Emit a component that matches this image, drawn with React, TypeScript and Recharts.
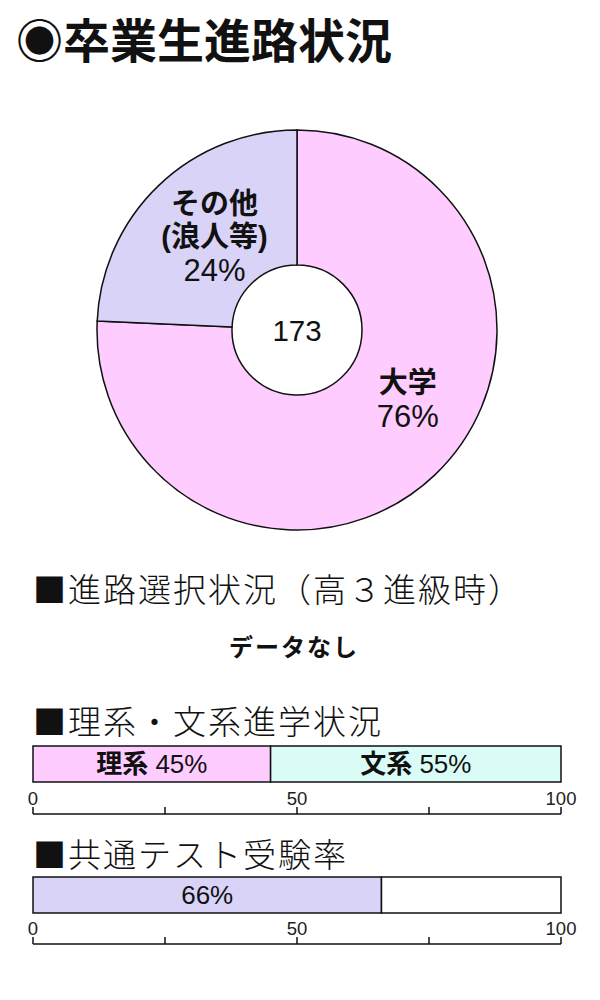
import React from 'react';
import { PieChart, Pie, Cell, BarChart, Bar, XAxis, YAxis, LabelList } from 'recharts';

const TITLE = '◉卒業生進路状況';
const PIE_NAMES = ['大学', 'その他'];
const PIE_SUBNAMES = ['', '(浪人等)'];
const PIE_VALUES = [131, 42];
const HEAD_CHOICE = '■進路選択状況（高３進級時）';
const NO_DATA = 'データなし';
const HEAD_TRACK = '■理系・文系進学状況';
const TRACK_NAMES = ['理系', '文系'];
const TRACK_VALUES = [45, 55];
const HEAD_EXAM = '■共通テスト受験率';
const EXAM_NAMES = ['受験', '未受験'];
const EXAM_VALUES = [66, 34];
const AXIS_TICKS = [0, 25, 50, 75, 100];
const AXIS_LABELS = [0, 50, 100];

const PIE_COLORS = ['#FFCCFF', '#D8D3F7'];
const TRACK_COLORS = ['#FFCCFF', '#D9FCF7'];
const EXAM_COLORS = ['#D8D3F7', '#FFFFFF'];

const JP = '"Liberation Sans", "Noto Sans CJK JP", sans-serif';
const CJK = '"Noto Sans CJK JP", sans-serif';

const pieData = PIE_NAMES.map((n, i) => ({ name: n, sub: PIE_SUBNAMES[i], value: PIE_VALUES[i] }));
const pieTotal = PIE_VALUES.reduce((a, b) => a + b, 0);
const trackData = [{ cat: 'track', a: TRACK_VALUES[0], b: TRACK_VALUES[1] }];
const examData = [{ cat: 'exam', a: EXAM_VALUES[0], b: EXAM_VALUES[1] }];

const PIE_TOP = 110;
const PIE_CX = 297;
const PIE_CY = 220;
const LABEL_SHIFT = [14, -2];
const LABEL_R = [131, 124];

const renderPieLabel = (props: any) => {
  const { cx, cy, midAngle, index, payload, value } = props;
  const RAD = Math.PI / 180;
  const a = (midAngle + LABEL_SHIFT[index]) * RAD;
  const x = cx + LABEL_R[index] * Math.cos(a);
  const y = cy - LABEL_R[index] * Math.sin(a);
  const pct = Math.round((value / pieTotal) * 100);
  const name = payload?.name ?? props.name;
  const sub = payload?.sub ?? '';
  const lines: { t: string; bold: boolean }[] = [{ t: name, bold: true }];
  if (sub) lines.push({ t: sub, bold: true });
  lines.push({ t: `${pct}%`, bold: false });
  const lh = 33.5;
  const y0 = y - ((lines.length - 1) * lh) / 2;
  return (
    <g>
      {lines.map((l, i) => (
        <text
          key={i}
          x={x}
          y={y0 + i * lh}
          textAnchor="middle"
          dominantBaseline="central"
          fontFamily={JP}
          fontSize={l.bold ? 29 : 31}
          fontWeight={l.bold ? 700 : 400}
          fill="#111"
        >
          {l.t}
        </text>
      ))}
    </g>
  );
};

const makeBarLabel = (name: string) => (props: any) => {
  const { x, y, width, height, value } = props;
  return (
    <text
      x={x + width / 2}
      y={y + height / 2}
      textAnchor="middle"
      dominantBaseline="central"
      fontFamily={JP}
      fontSize={26}
      fill="#111"
    >
      {name ? <tspan fontWeight={700}>{name} </tspan> : null}
      <tspan>{`${value}%`}</tspan>
    </text>
  );
};

const heading = (text: string, top: number) => (
  <div
    style={{
      position: 'absolute',
      left: 33,
      top,
      width: 560,
      height: 40,
      fontFamily: CJK,
      fontSize: 33,
      lineHeight: '40px',
      letterSpacing: 2,
      fontWeight: 300,
      color: '#111',
      whiteSpace: 'nowrap',
    }}
  >
    {text}
  </div>
);

const axisProps = {
  type: 'number' as const,
  domain: [0, 100],
  ticks: AXIS_TICKS,
  mirror: true,
  interval: 0 as const,
  tickSize: 7,
  tickMargin: 2,
  tickFormatter: (v: number) => (AXIS_LABELS.includes(v) ? String(v) : ''),
  axisLine: { stroke: '#111', strokeWidth: 1.5 },
  tickLine: { stroke: '#111', strokeWidth: 1.5 },
  tick: { fill: '#222', fontSize: 18.5, fontFamily: '"Liberation Sans", sans-serif' },
};

export default function App() {
  return (
    <div style={{ position: 'absolute', left: 0, top: 0, width: 600, height: 1000, background: '#fff' }}>
      <div
        style={{
          position: 'absolute',
          left: 16,
          top: 4,
          width: 570,
          height: 68,
          fontFamily: CJK,
          fontSize: 47,
          lineHeight: '68px',
          fontWeight: 700,
          color: '#111',
          whiteSpace: 'nowrap',
        }}
      >
        {TITLE}
      </div>

      <div style={{ position: 'absolute', left: 0, top: PIE_TOP }}>
        <PieChart width={600} height={440} margin={{ top: 0, right: 0, bottom: 0, left: 0 }}>
          <Pie
            data={pieData}
            dataKey="value"
            nameKey="name"
            cx={PIE_CX}
            cy={PIE_CY}
            innerRadius={65}
            outerRadius={200}
            startAngle={90}
            endAngle={-270}
            stroke="#111"
            strokeWidth={1.5}
            label={renderPieLabel}
            labelLine={false}
            isAnimationActive={false}
          >
            {pieData.map((d, i) => (
              <Cell key={d.name} fill={PIE_COLORS[i]} />
            ))}
          </Pie>
          <text
            x={PIE_CX}
            y={PIE_CY}
            textAnchor="middle"
            dominantBaseline="central"
            fontSize={29.5}
            fontFamily='"Liberation Sans", sans-serif'
            fill="#111"
          >
            {pieTotal}
          </text>
        </PieChart>
      </div>

      {heading(HEAD_CHOICE, 567.5)}
      <div
        style={{
          position: 'absolute',
          left: 229,
          top: 634,
          width: 200,
          height: 30,
          fontFamily: CJK,
          fontSize: 24,
          lineHeight: '24px',
          letterSpacing: 2,
          fontWeight: 700,
          color: '#111',
          whiteSpace: 'nowrap',
        }}
      >
        {NO_DATA}
      </div>

      {heading(HEAD_TRACK, 699.5)}
      <div style={{ position: 'absolute', left: 0, top: 720 }}>
        <BarChart
          width={600}
          height={104}
          data={trackData}
          layout="vertical"
          margin={{ top: 26, right: 39, bottom: 10, left: 33 }}
          barCategoryGap={0}
        >
          <XAxis {...axisProps} />
          <YAxis type="category" dataKey="cat" hide padding={{ top: 0, bottom: 32 }} />
          <Bar dataKey="a" stackId="s" fill={TRACK_COLORS[0]} stroke="#111" strokeWidth={1.5} isAnimationActive={false}>
            <LabelList dataKey="a" content={makeBarLabel(TRACK_NAMES[0])} />
          </Bar>
          <Bar dataKey="b" stackId="s" fill={TRACK_COLORS[1]} stroke="#111" strokeWidth={1.5} isAnimationActive={false}>
            <LabelList dataKey="b" content={makeBarLabel(TRACK_NAMES[1])} />
          </Bar>
        </BarChart>
      </div>

      {heading(HEAD_EXAM, 832.5)}
      <div style={{ position: 'absolute', left: 0, top: 851 }}>
        <BarChart
          width={600}
          height={103}
          data={examData}
          layout="vertical"
          margin={{ top: 26, right: 39, bottom: 10, left: 33 }}
          barCategoryGap={0}
        >
          <XAxis {...axisProps} />
          <YAxis type="category" dataKey="cat" hide padding={{ top: 0, bottom: 31 }} />
          <Bar dataKey="a" name={EXAM_NAMES[0]} stackId="s" fill={EXAM_COLORS[0]} stroke="#111" strokeWidth={1.5} isAnimationActive={false}>
            <LabelList dataKey="a" content={makeBarLabel('')} />
          </Bar>
          <Bar dataKey="b" name={EXAM_NAMES[1]} stackId="s" fill={EXAM_COLORS[1]} stroke="#111" strokeWidth={1.5} isAnimationActive={false} />
        </BarChart>
      </div>
    </div>
  );
}
